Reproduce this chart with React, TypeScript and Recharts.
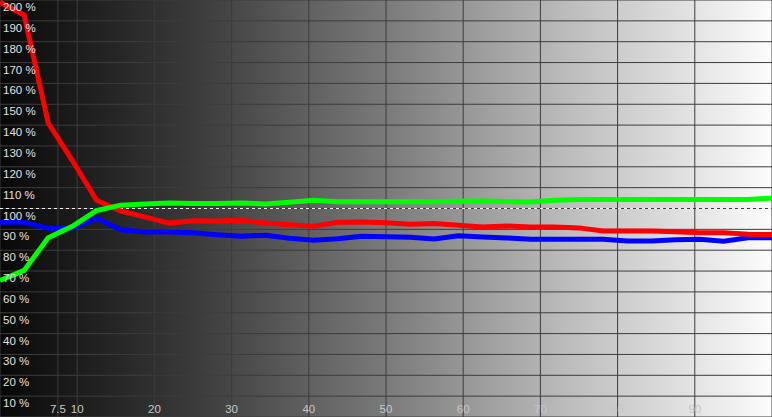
import React from "react";
import { LineChart, Line, XAxis, YAxis, CartesianGrid, ReferenceLine } from "recharts";

const xValues = [0, 3.125, 6.25, 9.375, 12.5, 15.625, 18.75, 21.875, 25, 28.125, 31.25, 34.375, 37.5, 40.625, 43.75, 46.875, 50, 53.125, 56.25, 59.375, 62.5, 65.625, 68.75, 71.875, 75, 78.125, 81.25, 84.375, 87.5, 90.625, 93.75, 96.875, 100];
const redValues = [199, 192.8, 141, 123, 104, 98.8, 96, 93, 94.1, 94, 94.4, 93, 92.2, 91.5, 93.4, 93.5, 93.2, 92.4, 92.8, 92, 91.1, 91.6, 91.1, 91.1, 90.7, 89.2, 89.2, 89.2, 88.8, 88.4, 88.4, 87.6, 87.5];
const greenValues = [65.5, 70.3, 86, 91.5, 99, 101.6, 102.2, 102.6, 102.4, 102.4, 102.6, 102.2, 103, 104, 103.2, 103.2, 103.2, 103.2, 103.2, 103.5, 103.6, 103.3, 103.1, 104, 104.3, 104.3, 104.3, 104.3, 104.3, 104.3, 104.3, 104.3, 105];
const blueValues = [93.4, 93.4, 90.5, 90.5, 95.3, 89.8, 88.7, 88.7, 88.4, 87.4, 86.7, 87.2, 85.7, 84.8, 85.5, 86.7, 86.5, 86.2, 85.4, 86.9, 86.3, 85.9, 85.2, 85.2, 85.2, 85.2, 84.4, 84.4, 85, 85.2, 84.3, 86, 86];

const xTicks = [0, 7.5, 10, 20, 30, 40, 50, 60, 70, 80, 90, 100];
const xTickLabels: Record<string, string> = { "7.5": "7.5", "10": "10", "20": "20", "30": "30", "40": "40", "50": "50", "60": "60", "70": "70", "80": "80", "90": "90" };
const yTicks = [0, 10, 20, 30, 40, 50, 60, 70, 80, 90, 100, 110, 120, 130, 140, 150, 160, 170, 180, 190, 200];

const data = xValues.map((x, i) => ({ x, red: redValues[i], green: greenValues[i], blue: blueValues[i] }));

const FONT = "'Liberation Sans', Arial, sans-serif";

const XTick = (props: any) => {
  const label = xTickLabels[String(props.payload.value)];
  if (!label) return <g />;
  return (
    <text x={props.x} y={413} textAnchor="middle" fontFamily={FONT} fontSize={11.5} fill="#c8c8c8">
      {label}
    </text>
  );
};

const YTick = (props: any) => {
  const v = props.payload.value;
  if (v === 0) return <g />;
  return (
    <text x={3} y={props.y + 11} textAnchor="start" fontFamily={FONT} fontSize={11.5} fill="#e0e0e0">
      {`${v} %`}
    </text>
  );
};

export default function App() {
  return (
    <div style={{ position: "fixed", left: 0, top: 0, width: 772, height: 417, background: "#000" }}>
      <LineChart width={772} height={417} data={data} margin={{ top: 0, right: 0, bottom: 0, left: 0 }}>
        <defs>
          <linearGradient id="bgGrad" x1="0" y1="0" x2="1" y2="0">
            <stop offset="0" stopColor="#080808" />
            <stop offset="0.25" stopColor="#3a3a3a" />
            <stop offset="0.5" stopColor="#7a7a7a" />
            <stop offset="0.62" stopColor="#9c9c9c" />
            <stop offset="0.75" stopColor="#c0c0c0" />
            <stop offset="0.9" stopColor="#e4e4e4" />
            <stop offset="1" stopColor="#fcfcfc" />
          </linearGradient>
        </defs>
        <CartesianGrid fill="url(#bgGrad)" fillOpacity={1} stroke="#3c3c3c" strokeWidth={1} />
        <XAxis
          dataKey="x"
          type="number"
          domain={[0, 100]}
          ticks={xTicks}
          mirror
          axisLine={false}
          tickLine={false}
          tick={<XTick />}
          interval={0}
        />
        <YAxis
          type="number"
          domain={[0, 200]}
          ticks={yTicks}
          mirror
          axisLine={false}
          tickLine={false}
          tick={<YTick />}
          interval={0}
        />
        <ReferenceLine y={100} stroke="#f0f0f0" strokeDasharray="3 3" strokeWidth={1} />
        <Line type="linear" dataKey="blue" stroke="#0000ff" strokeWidth={5} dot={false} activeDot={false} isAnimationActive={false} />
        <Line type="linear" dataKey="red" stroke="#ff0000" strokeWidth={5} dot={false} activeDot={false} isAnimationActive={false} />
        <Line type="linear" dataKey="green" stroke="#00ff00" strokeWidth={5} dot={false} activeDot={false} isAnimationActive={false} />
      </LineChart>
    </div>
  );
}
